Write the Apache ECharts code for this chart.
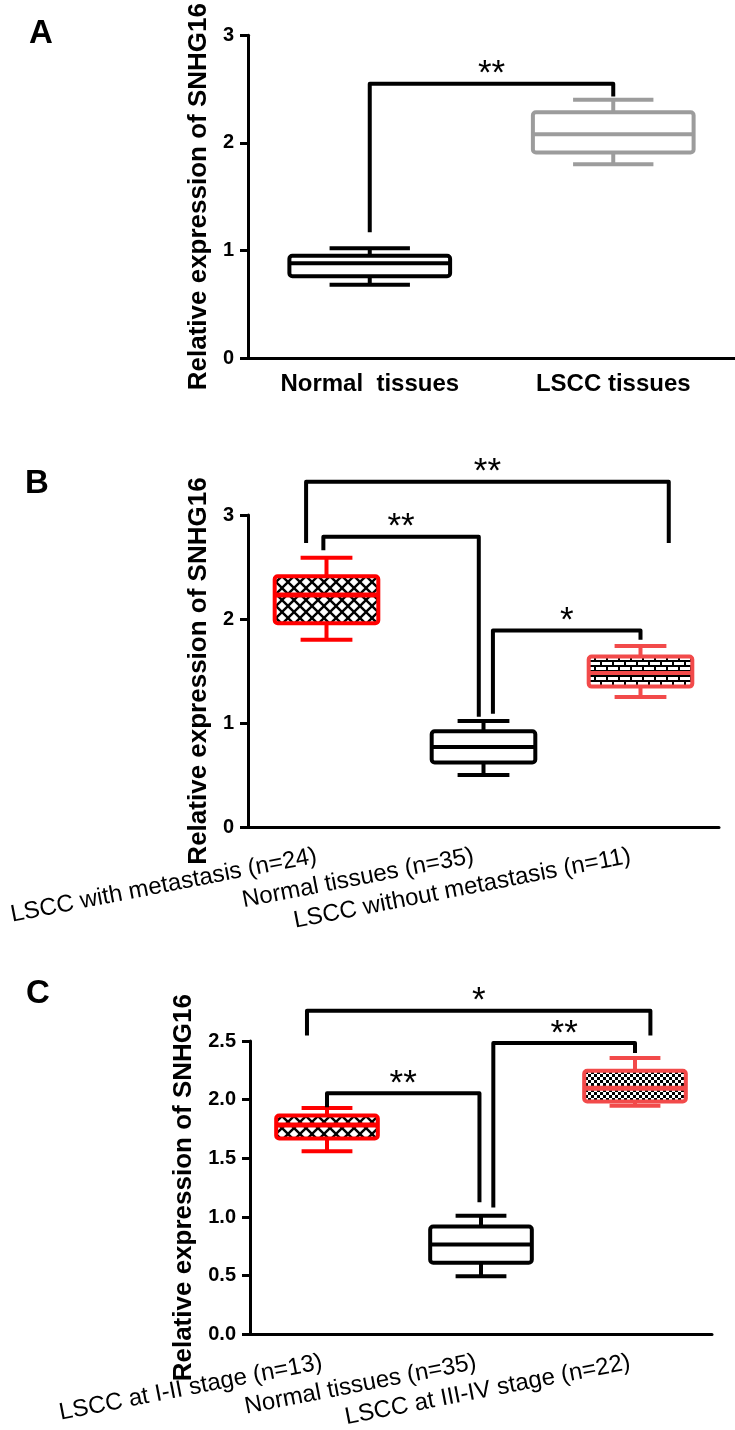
<!DOCTYPE html>
<html><head><meta charset="utf-8">
<script src="https://cdn.jsdelivr.net/npm/echarts@6/dist/echarts.min.js"></script>
<style>html,body{margin:0;padding:0;background:#fff}#chart{width:735px;height:1430px}</style>
</head><body><div id="chart"></div>
<script>
// ---------- DATA ----------
// Panel A
const catsA = ['Normal  tissues', 'LSCC tissues'];
// [category index, min, Q1, median, Q3, max]
const boxesA = [
  [0, 0.68, 0.76, 0.88, 0.95, 1.02],
  [1, 1.80, 1.91, 2.08, 2.285, 2.40]
];
// [left cat, left offset (bands), left start, top, right cat, right offset (bands), right end]
const bracketsA = [
  [0, 0, 1.17, 2.55, 1, 0, 2.43]
];
const starsA = ['**'];
const yTicksA = { min: 0, max: 3, interval: 1 };

// Panel B
const catsB = ['LSCC with metastasis (n=24)', 'Normal tissues (n=35)', 'LSCC without metastasis (n=11)'];
const boxesB = [
  [0, 1.80, 1.96, 2.23, 2.41, 2.59],
  [1, 0.50, 0.62, 0.77, 0.92, 1.02],
  [2, 1.25, 1.35, 1.48, 1.64, 1.74]
];
const bracketsB = [
  [0, -0.13, 2.73, 3.32, 2, 0.18, 2.73],
  [0, -0.02, 2.66, 2.79, 1, -0.03, 1.06],
  [1, 0.06, 1.09, 1.89, 2, 0, 1.80]
];
const starsB = ['**', '**', '*'];
const yTicksB = { min: 0, max: 3, interval: 1 };

// Panel C
const catsC = ['LSCC at I-II stage (n=13)', 'Normal tissues (n=35)', 'LSCC at III-IV stage (n=22)'];
const boxesC = [
  [0, 1.56, 1.67, 1.785, 1.865, 1.93],
  [1, 0.495, 0.61, 0.766, 0.918, 1.01],
  [2, 1.948, 1.984, 2.098, 2.247, 2.356]
];
const bracketsC = [
  [0, -0.13, 2.546, 2.758, 2, 0.10, 2.546],
  [0, 0, 1.935, 2.054, 1, -0.01, 1.125],
  [1, 0.08, 1.08, 2.484, 2, 0, 2.397]
];
const starsC = ['*', '**', '**'];
const yTicksC = { min: 0, max: 2.5, interval: 0.5 };

const yTitle = 'Relative expression of SNHG16';

// ---------- PATTERNS ----------
function mkCanvas(w, h) { const c = document.createElement('canvas'); c.width = w; c.height = h; return c; }
function diamondPattern() {
  const c = mkCanvas(12, 12), g = c.getContext('2d');
  g.fillStyle = '#000'; g.fillRect(0, 0, 12, 12);
  g.fillStyle = '#fff';
  const d = (x, y, r) => { g.beginPath(); g.moveTo(x, y - r); g.lineTo(x + r, y); g.lineTo(x, y + r); g.lineTo(x - r, y); g.closePath(); g.fill(); };
  const r = 4.3;
  d(6, 6, r); d(0, 0, r); d(12, 0, r); d(0, 12, r); d(12, 12, r);
  return { image: c, repeat: 'repeat' };
}
function brickPattern() {
  const c = mkCanvas(12, 10), g = c.getContext('2d');
  g.fillStyle = '#fff'; g.fillRect(0, 0, 12, 10);
  g.fillStyle = '#000';
  g.fillRect(0, 0, 12, 2); g.fillRect(0, 5, 12, 2);
  g.fillRect(0, 2, 2, 3); g.fillRect(6, 7, 2, 3);
  return { image: c, repeat: 'repeat' };
}
function checkerPattern() {
  const c = mkCanvas(6, 6), g = c.getContext('2d');
  g.fillStyle = '#fff'; g.fillRect(0, 0, 6, 6);
  g.fillStyle = '#000'; g.fillRect(0, 0, 3, 3); g.fillRect(3, 3, 3, 3);
  return { image: c, repeat: 'repeat' };
}

const RED = '#ff0000', LRED = '#f24a4a';
const stylesA = [{ stroke: '#000', fill: '#fff', mw: 4 }, { stroke: '#9c9c9c', fill: '#fff', mw: 4 }];
const stylesB = [{ stroke: RED, fill: diamondPattern(), mw: 5 }, { stroke: '#000', fill: '#fff', mw: 4 }, { stroke: LRED, fill: brickPattern(), mw: 4 }];
const stylesC = [{ stroke: RED, fill: diamondPattern(), mw: 5 }, { stroke: '#000', fill: '#fff', mw: 4 }, { stroke: LRED, fill: checkerPattern(), mw: 5 }];

// ---------- RENDERERS ----------
function boxRenderer(styles) {
  return function (params, api) {
    const c = api.value(0);
    const ys = [1, 2, 3, 4, 5].map(d => api.coord([c, api.value(d)])[1]);
    const yMin = ys[0], yQ1 = ys[1], yMed = ys[2], yQ3 = ys[3], yMax = ys[4];
    const cx = api.coord([c, 0])[0];
    const band = api.size([1, 0])[0];
    const bw = band * 0.66, cw = band * 0.33;
    const s = styles[params.dataIndex];
    const lw = 4;
    const line = (x1, y1, x2, y2, w) => ({ type: 'line', shape: { x1, y1, x2, y2 }, style: { stroke: s.stroke, lineWidth: w || lw, lineCap: 'butt' } });
    return {
      type: 'group', children: [
        line(cx, yQ3, cx, yMax), line(cx, yQ1, cx, yMin),
        line(cx - cw / 2, yMax, cx + cw / 2, yMax), line(cx - cw / 2, yMin, cx + cw / 2, yMin),
        { type: 'rect', shape: { x: cx - bw / 2, y: yQ3, width: bw, height: yQ1 - yQ3, r: 3 }, style: { fill: s.fill, stroke: s.stroke, lineWidth: lw } },
        line(cx - bw / 2, yMed, cx + bw / 2, yMed, s.mw)
      ]
    };
  };
}
function bracketRenderer(stars) {
  return function (params, api) {
    const lc = api.value(0), lo = api.value(1), ly = api.value(2), top = api.value(3), rc = api.value(4), ro = api.value(5), ry = api.value(6);
    const band = api.size([1, 0])[0];
    const pL = api.coord([lc, ly]), pLT = api.coord([lc, top]);
    const pR = api.coord([rc, ry]);
    const xl = pL[0] + lo * band, xr = pR[0] + ro * band;
    return {
      type: 'group', children: [
        { type: 'polyline', shape: { points: [[xl, pL[1]], [xl, pLT[1]], [xr, pLT[1]], [xr, pR[1]]] }, style: { stroke: '#000', lineWidth: 4, fill: null, lineJoin: 'round' } },
        { type: 'text', style: { text: stars[params.dataIndex], x: (xl + xr) / 2, y: pLT[1] - 9, align: 'center', verticalAlign: 'middle', fontSize: 35, fontFamily: 'Liberation Sans', fill: '#000' } }
      ]
    };
  };
}

// ---------- OPTION ----------
const FONT = '"Liberation Sans", Arial, sans-serif';
function xAxisCfg(i, cats, labelCfg) {
  return {
    type: 'category', gridIndex: i, data: cats,
    axisLine: { lineStyle: { color: '#000', width: 3 } },
    axisTick: { alignWithLabel: true, length: 8, lineStyle: { color: '#000', width: 3 } },
    axisLabel: Object.assign({ interval: 0, color: '#000', fontFamily: FONT }, labelCfg),
    splitLine: { show: false }
  };
}
function yAxisCfg(i, t, gap, fmt) {
  return {
    type: 'value', gridIndex: i, min: t.min, max: t.max, interval: t.interval,
    name: yTitle, nameLocation: 'middle', nameGap: gap, nameRotate: 90,
    nameTextStyle: { fontSize: 26, fontWeight: 'bold', color: '#000', fontFamily: FONT },
    axisLine: { show: true, lineStyle: { color: '#000', width: 3 } },
    axisTick: { show: true, length: 8, lineStyle: { color: '#000', width: 3 } },
    axisLabel: { fontSize: 20, fontWeight: 'bold', color: '#000', margin: 14, fontFamily: FONT, formatter: fmt },
    splitLine: { show: false }
  };
}

const option = {
  animation: false,
  backgroundColor: '#fff',
  textStyle: { fontFamily: FONT },
  title: [
    { text: 'A', left: 24, top: 12, textStyle: { fontSize: 33, fontWeight: 'bold', color: '#000', fontFamily: FONT } },
    { text: 'B', left: 20, top: 462, textStyle: { fontSize: 33, fontWeight: 'bold', color: '#000', fontFamily: FONT } },
    { text: 'C', left: 21, top: 972, textStyle: { fontSize: 33, fontWeight: 'bold', color: '#000', fontFamily: FONT } }
  ],
  grid: [
    { left: 248, top: 35, width: 487, height: 323 },
    { left: 248, top: 515, width: 471, height: 312 },
    { left: 250, top: 1041, width: 462, height: 307 }
  ],
  xAxis: [
    xAxisCfg(0, catsA, { fontSize: 24, fontWeight: 'bold', margin: 14 }),
    xAxisCfg(1, catsB, { fontSize: 24, rotate: 11, margin: 27, padding: [0, 10, 0, 0] }),
    xAxisCfg(2, catsC, { fontSize: 24, rotate: 11, margin: 27, padding: [0, 5, 0, 0] })
  ],
  yAxis: [
    yAxisCfg(0, yTicksA, 36, v => String(v)),
    yAxisCfg(1, yTicksB, 36, v => String(v)),
    yAxisCfg(2, yTicksC, 52, v => v.toFixed(1))
  ],
  series: [
    { type: 'custom', xAxisIndex: 0, yAxisIndex: 0, data: boxesA, encode: { x: 0, y: [1, 2, 3, 4, 5] }, renderItem: boxRenderer(stylesA), clip: false },
    { type: 'custom', xAxisIndex: 0, yAxisIndex: 0, data: bracketsA, encode: { x: 0, y: [2, 3, 6] }, renderItem: bracketRenderer(starsA), clip: false },
    { type: 'custom', xAxisIndex: 1, yAxisIndex: 1, data: boxesB, encode: { x: 0, y: [1, 2, 3, 4, 5] }, renderItem: boxRenderer(stylesB), clip: false },
    { type: 'custom', xAxisIndex: 1, yAxisIndex: 1, data: bracketsB, encode: { x: 0, y: [2, 3, 6] }, renderItem: bracketRenderer(starsB), clip: false },
    { type: 'custom', xAxisIndex: 2, yAxisIndex: 2, data: boxesC, encode: { x: 0, y: [1, 2, 3, 4, 5] }, renderItem: boxRenderer(stylesC), clip: false },
    { type: 'custom', xAxisIndex: 2, yAxisIndex: 2, data: bracketsC, encode: { x: 0, y: [2, 3, 6] }, renderItem: bracketRenderer(starsC), clip: false }
  ]
};
const chart = echarts.init(document.getElementById('chart'), null, { renderer: 'canvas' });
chart.setOption(option);
</script>
</body></html>
